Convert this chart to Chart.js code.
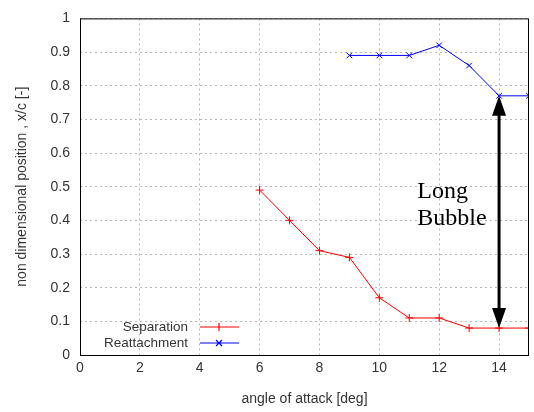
<!DOCTYPE html>
<html>
<head>
<meta charset="utf-8">
<script src="https://cdn.jsdelivr.net/npm/chart.js@4.4.0/dist/chart.umd.min.js"></script>
<style>
  html, body { margin: 0; padding: 0; background: #fff; }
  #wrap { width: 534px; height: 412px; }
</style>
</head>
<body>
<div id="wrap"><canvas id="bubble"></canvas></div>
<script>
// angle of attack [deg]
var sepAngles = [6, 7, 8, 9, 10, 11, 12, 13, 14, 15];
var sepValues = [0.49, 0.40, 0.31, 0.29, 0.17, 0.11, 0.11, 0.08, 0.08, 0.08];
var reaAngles = [9, 10, 11, 12, 13, 14, 15];
var reaValues = [0.89, 0.89, 0.89, 0.92, 0.86, 0.77, 0.77];
var xTicks = [0, 2, 4, 6, 8, 10, 12, 14];
var yTicks = [0, 0.1, 0.2, 0.3, 0.4, 0.5, 0.6, 0.7, 0.8, 0.9, 1];

function toPoints(xs, ys) {
  return xs.map(function (x, i) { return { x: x, y: ys[i] }; });
}

// frame, legend and the "Long Bubble" arrow
var extras = {
  id: "extras",
  afterDraw: function (chart) {
    var c = chart.ctx, a = chart.chartArea;
    var xs = chart.scales.x, ys = chart.scales.y;
    c.save();
    c.strokeStyle = "#000";
    c.lineWidth = 1;
    c.strokeRect(a.left + 0.5, a.top + 0.5, a.right - a.left - 1, a.bottom - a.top);

    // legend
    c.font = "13.5px 'Liberation Sans', Arial, sans-serif";
    c.textAlign = "right";
    c.textBaseline = "middle";
    var items = [["Separation", "rgb(255,0,0)", "+"], ["Reattachment", "rgb(0,0,255)", "x"]];
    items.forEach(function (it, i) {
      var yy = Math.round(a.bottom) - 28 + i * 16;
      c.fillStyle = "#333";
      c.fillText(it[0], a.left + 108, yy);
      c.strokeStyle = it[1];
      c.lineWidth = 1.2;
      c.beginPath();
      c.moveTo(a.left + 120, yy);
      c.lineTo(a.left + 159, yy);
      var mx = a.left + 139;
      if (it[2] === "+") {
        c.moveTo(mx, yy - 4); c.lineTo(mx, yy + 4);
      } else {
        c.moveTo(mx - 3, yy - 3); c.lineTo(mx + 3, yy + 3);
        c.moveTo(mx - 3, yy + 3); c.lineTo(mx + 3, yy - 3);
      }
      c.stroke();
    });

    // arrow between separation and reattachment at 14 deg
    var ax = xs.getPixelForValue(14);
    var yTop = ys.getPixelForValue(0.77);
    var yBot = ys.getPixelForValue(0.08);
    c.fillStyle = "#000";
    c.strokeStyle = "#000";
    c.lineWidth = 3;
    c.beginPath();
    c.moveTo(ax, yTop + 18);
    c.lineTo(ax, yBot - 18);
    c.stroke();
    c.beginPath();
    c.moveTo(ax, yTop); c.lineTo(ax - 7, yTop + 20); c.lineTo(ax + 7, yTop + 20); c.closePath();
    c.fill();
    c.beginPath();
    c.moveTo(ax, yBot); c.lineTo(ax - 7, yBot - 20); c.lineTo(ax + 7, yBot - 20); c.closePath();
    c.fill();

    c.font = "24px 'Liberation Serif', 'Times New Roman', serif";
    c.textAlign = "left";
    c.textBaseline = "alphabetic";
    c.fillText("Long", xs.getPixelForValue(11.27), ys.getPixelForValue(0.466));
    c.fillText("Bubble", xs.getPixelForValue(11.27), ys.getPixelForValue(0.385));
    c.restore();
  }
};

var tickFont = { family: "'Liberation Sans', Arial, sans-serif", size: 14 };
var ctx = document.getElementById("bubble").getContext("2d");
var chart = new Chart(ctx, {
  type: "line",
  data: {
    datasets: [
      {
        label: "Separation",
        data: toPoints(sepAngles, sepValues),
        borderColor: "#ff0000",
        backgroundColor: "#ff0000",
        borderWidth: 1,
        pointStyle: "cross",
        pointRadius: 4,
        pointBorderWidth: 1,
        tension: 0
      },
      {
        label: "Reattachment",
        data: toPoints(reaAngles, reaValues),
        borderColor: "#0000ff",
        backgroundColor: "#0000ff",
        borderWidth: 1,
        pointStyle: "crossRot",
        pointRadius: 4,
        pointBorderWidth: 1,
        tension: 0
      }
    ]
  },
  options: {
    responsive: true,
    maintainAspectRatio: false,
    animation: false,
    layout: { padding: { top: 13, right: 2, left: 0, bottom: 0 } },
    plugins: { legend: { display: false }, tooltip: { enabled: false } },
    scales: {
      x: {
        type: "linear",
        min: 0,
        max: 15,
        afterBuildTicks: function (axis) {
          axis.ticks = xTicks.map(function (v) { return { value: v }; });
        },
        afterFit: function (axis) { axis.height = 57; },
        ticks: { color: "#333", font: tickFont, padding: 5, maxRotation: 0 },
        grid: { color: "#b8b8b8", drawTicks: false },
        border: { display: false, dash: [2, 3] },
        title: { display: true, text: "angle of attack [deg]", color: "#333", font: tickFont, padding: { top: 11 } }
      },
      y: {
        type: "linear",
        min: 0,
        max: 1,
        afterBuildTicks: function (axis) {
          axis.ticks = yTicks.map(function (v) { return { value: v }; });
        },
        afterFit: function (axis) { axis.width = 80; },
        ticks: {
          color: "#333", font: tickFont, padding: 10,
          callback: function (v) { return String(Math.round(v * 10) / 10); }
        },
        grid: { color: "#b8b8b8", drawTicks: false },
        border: { display: false, dash: [2, 3] },
        title: { display: true, text: "non dimensional position , x/c [-]", color: "#333", font: tickFont, padding: { top: 14, bottom: 6 } }
      }
    }
  },
  plugins: [extras]
});
</script>
</body>
</html>
